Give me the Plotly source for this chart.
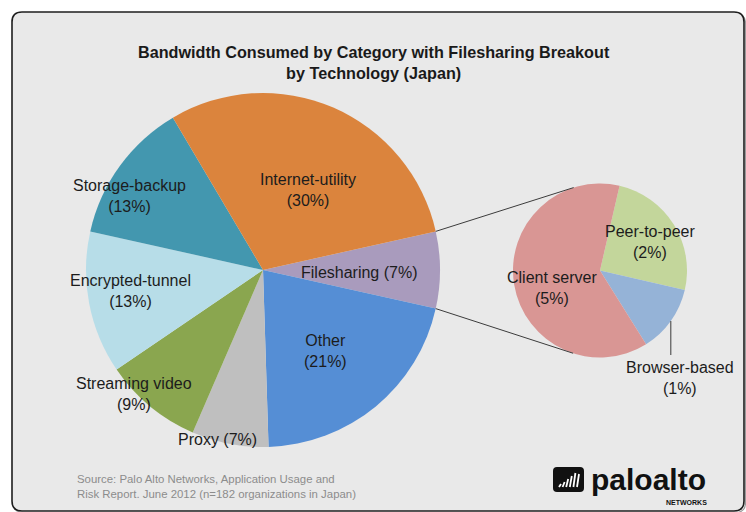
import math
import plotly.graph_objects as go

W, H = 746, 512

# Bandwidth consumed by application category, Japan (percent)
categories = ["Filesharing", "Other", "Proxy", "Streaming video",
              "Encrypted-tunnel", "Storage-backup", "Internet-utility"]
shares = [7, 21, 7, 9, 13, 13, 30]

# Filesharing bandwidth broken out by technology (percent)
technologies = ["Peer-to-peer", "Browser-based", "Client server"]
tech_shares = [2, 1, 5]

# ---- styling -------------------------------------------------------------
category_colors = ["#A99BBD", "#558ED5", "#BFBFBF", "#8AA64F",
                   "#B7DDE8", "#4397AF", "#DB843D"]
tech_colors = ["#C3D69B", "#95B3D7", "#D99694"]
one_line = {"Filesharing", "Proxy"}

# label placement per slice: (fraction of radius, clockwise shift in degrees)
main_label_pos = [(0.54, 1.2), (0.58, 2.1), (0.99, 4.4), (1.01, 6.4),
                  (0.76, 1.8), (0.86, -7.0), (0.52, 6.0)]
sub_label_pos = [(0.66, 2.0), None, (0.59, -10.5)]

MAIN_C, MAIN_R = (263.0, 270.0), 177.0
SUB_C, SUB_R = (600.0, 270.5), 87.0
SUB_ROTATION = 13.0

FONT = "Liberation Sans, Arial, sans-serif"
LABEL_FONT = dict(family=FONT, size=16, color="#1c1c1c")


def px(x):
    return x / W


def py(y):
    return 1 - y / H


def domain(c, r):
    return dict(x=[px(c[0] - r), px(c[0] + r)], y=[py(c[1] + r), py(c[1] - r)])


def point(c, r, ang):
    # ang: degrees clockwise from 12 o'clock, screen pixels
    a = math.radians(ang)
    return c[0] + r * math.sin(a), c[1] - r * math.cos(a)


def slice_angles(values, rotation):
    total = float(sum(values))
    out, cum = [], 0.0
    for v in values:
        a0 = rotation + cum / total * 360
        cum += v
        a1 = rotation + cum / total * 360
        out.append((a0, a1))
    return out


def rounded_rect(x0, y0, x1, y1, r):
    return (f"M {px(x0 + r)},{py(y0)} L {px(x1 - r)},{py(y0)} "
            f"Q {px(x1)},{py(y0)} {px(x1)},{py(y0 + r)} L {px(x1)},{py(y1 - r)} "
            f"Q {px(x1)},{py(y1)} {px(x1 - r)},{py(y1)} L {px(x0 + r)},{py(y1)} "
            f"Q {px(x0)},{py(y1)} {px(x0)},{py(y1 - r)} L {px(x0)},{py(y0 + r)} "
            f"Q {px(x0)},{py(y0)} {px(x0 + r)},{py(y0)} Z")


# filesharing slice centred on 3 o'clock
main_rotation = 90 - shares[0] / sum(shares) * 360 / 2
main_angles = slice_angles(shares, main_rotation)
sub_angles = slice_angles(tech_shares, SUB_ROTATION)

fig = go.Figure()
fig.add_trace(go.Pie(
    labels=categories, values=shares, sort=False, direction="clockwise",
    rotation=main_rotation, marker=dict(colors=category_colors, line=dict(width=0)),
    textinfo="none", hoverinfo="label+percent", domain=domain(MAIN_C, MAIN_R),
    showlegend=False,
))
fig.add_trace(go.Pie(
    labels=technologies, values=tech_shares, sort=False, direction="clockwise",
    rotation=SUB_ROTATION, marker=dict(colors=tech_colors, line=dict(width=0)),
    textinfo="none", hoverinfo="label+percent", domain=domain(SUB_C, SUB_R),
    showlegend=False,
))

annotations = []
shapes = []

# rounded panel behind everything, with a faint drop shadow
shapes.append(dict(type="path", xref="paper", yref="paper",
                   path=rounded_rect(13.5, 13.5, 745.5, 512.5, 10),
                   fillcolor="rgba(0,0,0,0)", line=dict(color="#9a9a9a", width=1.2),
                   layer="below"))
shapes.append(dict(type="path", xref="paper", yref="paper",
                   path=rounded_rect(12, 12, 744, 511, 10),
                   fillcolor="#E9E9E9", line=dict(color="#1e1e1e", width=1.6), layer="below"))

# slice labels, main pie
for name, val, (a0, a1), pos in zip(categories, shares, main_angles, main_label_pos):
    frac, shift = pos
    lx, ly = point(MAIN_C, MAIN_R * frac, (a0 + a1) / 2 + shift)
    sep = " " if name in one_line else "<br>"
    annotations.append(dict(x=px(lx), y=py(ly), xref="paper", yref="paper",
                            text=f"{name}{sep}({val}%)", showarrow=False,
                            font=LABEL_FONT, xanchor="center", yanchor="middle"))

# slice labels, breakout pie
for name, val, (a0, a1), pos in zip(technologies, tech_shares, sub_angles, sub_label_pos):
    if pos is None:
        sx, sy = point(SUB_C, SUB_R, (a0 + a1) / 2)
        ey = sy + 34
        shapes.append(dict(type="line", xref="paper", yref="paper",
                           x0=px(sx), y0=py(sy), x1=px(sx), y1=py(ey),
                           line=dict(color="#3a3a3a", width=1)))
        annotations.append(dict(x=px(sx + 9), y=py(ey + 2), xref="paper", yref="paper",
                                text=f"{name}<br>({val}%)", showarrow=False,
                                font=LABEL_FONT, xanchor="center", yanchor="top"))
        continue
    frac, shift = pos
    lx, ly = point(SUB_C, SUB_R * frac, (a0 + a1) / 2 + shift)
    annotations.append(dict(x=px(lx), y=py(ly), xref="paper", yref="paper",
                            text=f"{name}<br>({val}%)", showarrow=False,
                            font=LABEL_FONT, xanchor="center", yanchor="middle"))

# connector lines: filesharing slice edges tangent to the breakout pie
fs0, fs1 = main_angles[0]
for edge_ang, pick in ((fs0, min), (fs1, max)):
    ex, ey = point(MAIN_C, MAIN_R, edge_ang)
    vx, vy = ex - SUB_C[0], ey - SUB_C[1]
    d = math.hypot(vx, vy)
    psi = math.atan2(vy, vx)
    alpha = math.acos(SUB_R / d)
    cands = [(SUB_C[0] + SUB_R * math.cos(psi + s * alpha),
              SUB_C[1] + SUB_R * math.sin(psi + s * alpha)) for s in (1, -1)]
    tx, ty = pick(cands, key=lambda p: p[1])
    shapes.append(dict(type="line", xref="paper", yref="paper",
                       x0=px(ex), y0=py(ey), x1=px(tx), y1=py(ty),
                       line=dict(color="#3c3c3c", width=1)))

# title
annotations.append(dict(
    x=px(374), y=py(62), xref="paper", yref="paper", showarrow=False,
    text="<b>Bandwidth Consumed by Category with Filesharing Breakout<br>by Technology (Japan)</b>",
    font=dict(family=FONT, size=16.2, color="#1a1a1a"),
    xanchor="center", yanchor="middle"))

# source note
annotations.append(dict(
    x=px(75), y=py(486), xref="paper", yref="paper", showarrow=False, align="left",
    text="Source: Palo Alto Networks, Application Usage and<br>"
         "Risk Report. June 2012 (n=182 organizations in Japan)",
    font=dict(family=FONT, size=11.4, color="#8C8C8C"),
    xanchor="left", yanchor="middle"))

# logo mark
shapes.append(dict(type="path", xref="paper", yref="paper",
                   path=rounded_rect(553, 467, 584, 492, 4),
                   fillcolor="#111111", line=dict(width=0)))
for i, h in enumerate([3, 5, 8, 11, 14, 13]):
    bx = 559 + i * 3.6
    shapes.append(dict(type="line", xref="paper", yref="paper",
                       x0=px(bx), y0=py(487), x1=px(bx + 2), y1=py(487 - h),
                       line=dict(color="#FFFFFF", width=1.8)))

annotations.append(dict(
    x=px(708), y=py(479), xref="paper", yref="paper", showarrow=False,
    text="<b>paloalto</b>",
    font=dict(family=FONT, size=30, color="#111111"),
    xanchor="right", yanchor="middle"))
annotations.append(dict(
    x=px(709), y=py(502), xref="paper", yref="paper", showarrow=False,
    text="<b>NETWORKS</b>",
    font=dict(family=FONT, size=7, color="#111111"),
    xanchor="right", yanchor="middle"))

fig.update_layout(
    width=W, height=H, margin=dict(l=0, r=0, t=0, b=0),
    paper_bgcolor="#FFFFFF", plot_bgcolor="#FFFFFF",
    shapes=shapes, annotations=annotations, showlegend=False,
)

fig.write_html("out.html")
